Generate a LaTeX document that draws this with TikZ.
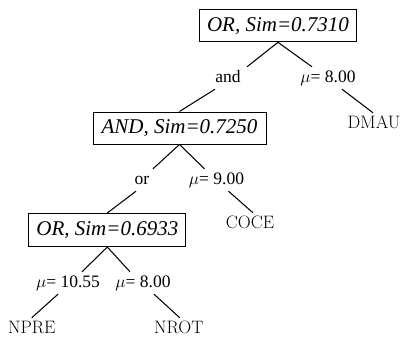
\documentclass[tikz,border=0pt]{standalone}
\usepackage{fontspec}
\newfontfamily\tms{Liberation Serif}
\begin{document}
\begin{tikzpicture}[x=1pt,y=-1pt,
  opbox/.style={draw,line width=1pt,inner sep=0pt,
    font=\tms\itshape\fontsize{21}{25}\selectfont},
  lbl/.style={anchor=base,inner xsep=1pt,inner ysep=3pt,text height=12pt,text depth=4pt,
    font=\tms\fontsize{17.5}{20}\selectfont},
  leaf/.style={anchor=base,inner xsep=1pt,inner ysep=3pt,text height=12pt,text depth=0pt,
    font=\fontsize{18}{21}\selectfont},
  edge/.style={line width=1.05pt}]
\useasboundingbox (0,0) rectangle (405,338);

% operator boxes
\node[opbox,minimum width=157pt,minimum height=32pt] (b1) at (278,25.8) {OR, Sim=0.7310};
\node[opbox,minimum width=173pt,minimum height=32pt] (b2) at (179.5,128) {AND, Sim=0.7250};
\node[opbox,minimum width=157pt,minimum height=33pt] (b3) at (107.3,230) {OR, Sim=0.6933};

% edge labels
\node[lbl] (andl) at (228,82) {and};
\node[lbl] (m1) at (328,82) {$\mu$= 8.00};
\node[lbl] (orl) at (142,184) {or};
\node[lbl] (m2) at (216.5,184) {$\mu$= 9.00};
\node[lbl] (m3) at (68,287) {$\mu$= 10.55};
\node[lbl] (m4) at (143,287) {$\mu$= 8.00};

% leaves
\node[leaf] (dmau) at (374,128) {DMAU};
\node[leaf] (coce) at (250,228) {COCE};
\node[leaf] (npre) at (31.7,333) {NPRE};
\node[leaf] (nrot) at (178.8,333) {NROT};

% connectors
\draw[edge] (b1.south) -- ([xshift=19pt]andl.north);
\draw[edge] (b1.south) -- ([xshift=-16pt]m1.north);
\draw[edge] ([xshift=-13pt]andl.south) -- (b2.north);
\draw[edge] ([xshift=14pt]m1.south) -- ([xshift=-1pt]dmau.north);
\draw[edge] (b2.south) -- ([xshift=11pt]orl.north);
\draw[edge] (b2.south) -- ([xshift=-12pt]m2.north);
\draw[edge] ([xshift=-6pt]orl.south) -- (b3.north);
\draw[edge] ([xshift=12pt]m2.south) -- ([xshift=3pt]coce.north);
\draw[edge] (b3.south) -- ([xshift=14pt]m3.north);
\draw[edge] (b3.south) -- ([xshift=-13pt]m4.north);
\draw[edge] ([xshift=-10pt]m3.south) -- (npre.north);
\draw[edge] ([xshift=11pt]m4.south) -- ([xshift=1pt]nrot.north);
\end{tikzpicture}
\end{document}
